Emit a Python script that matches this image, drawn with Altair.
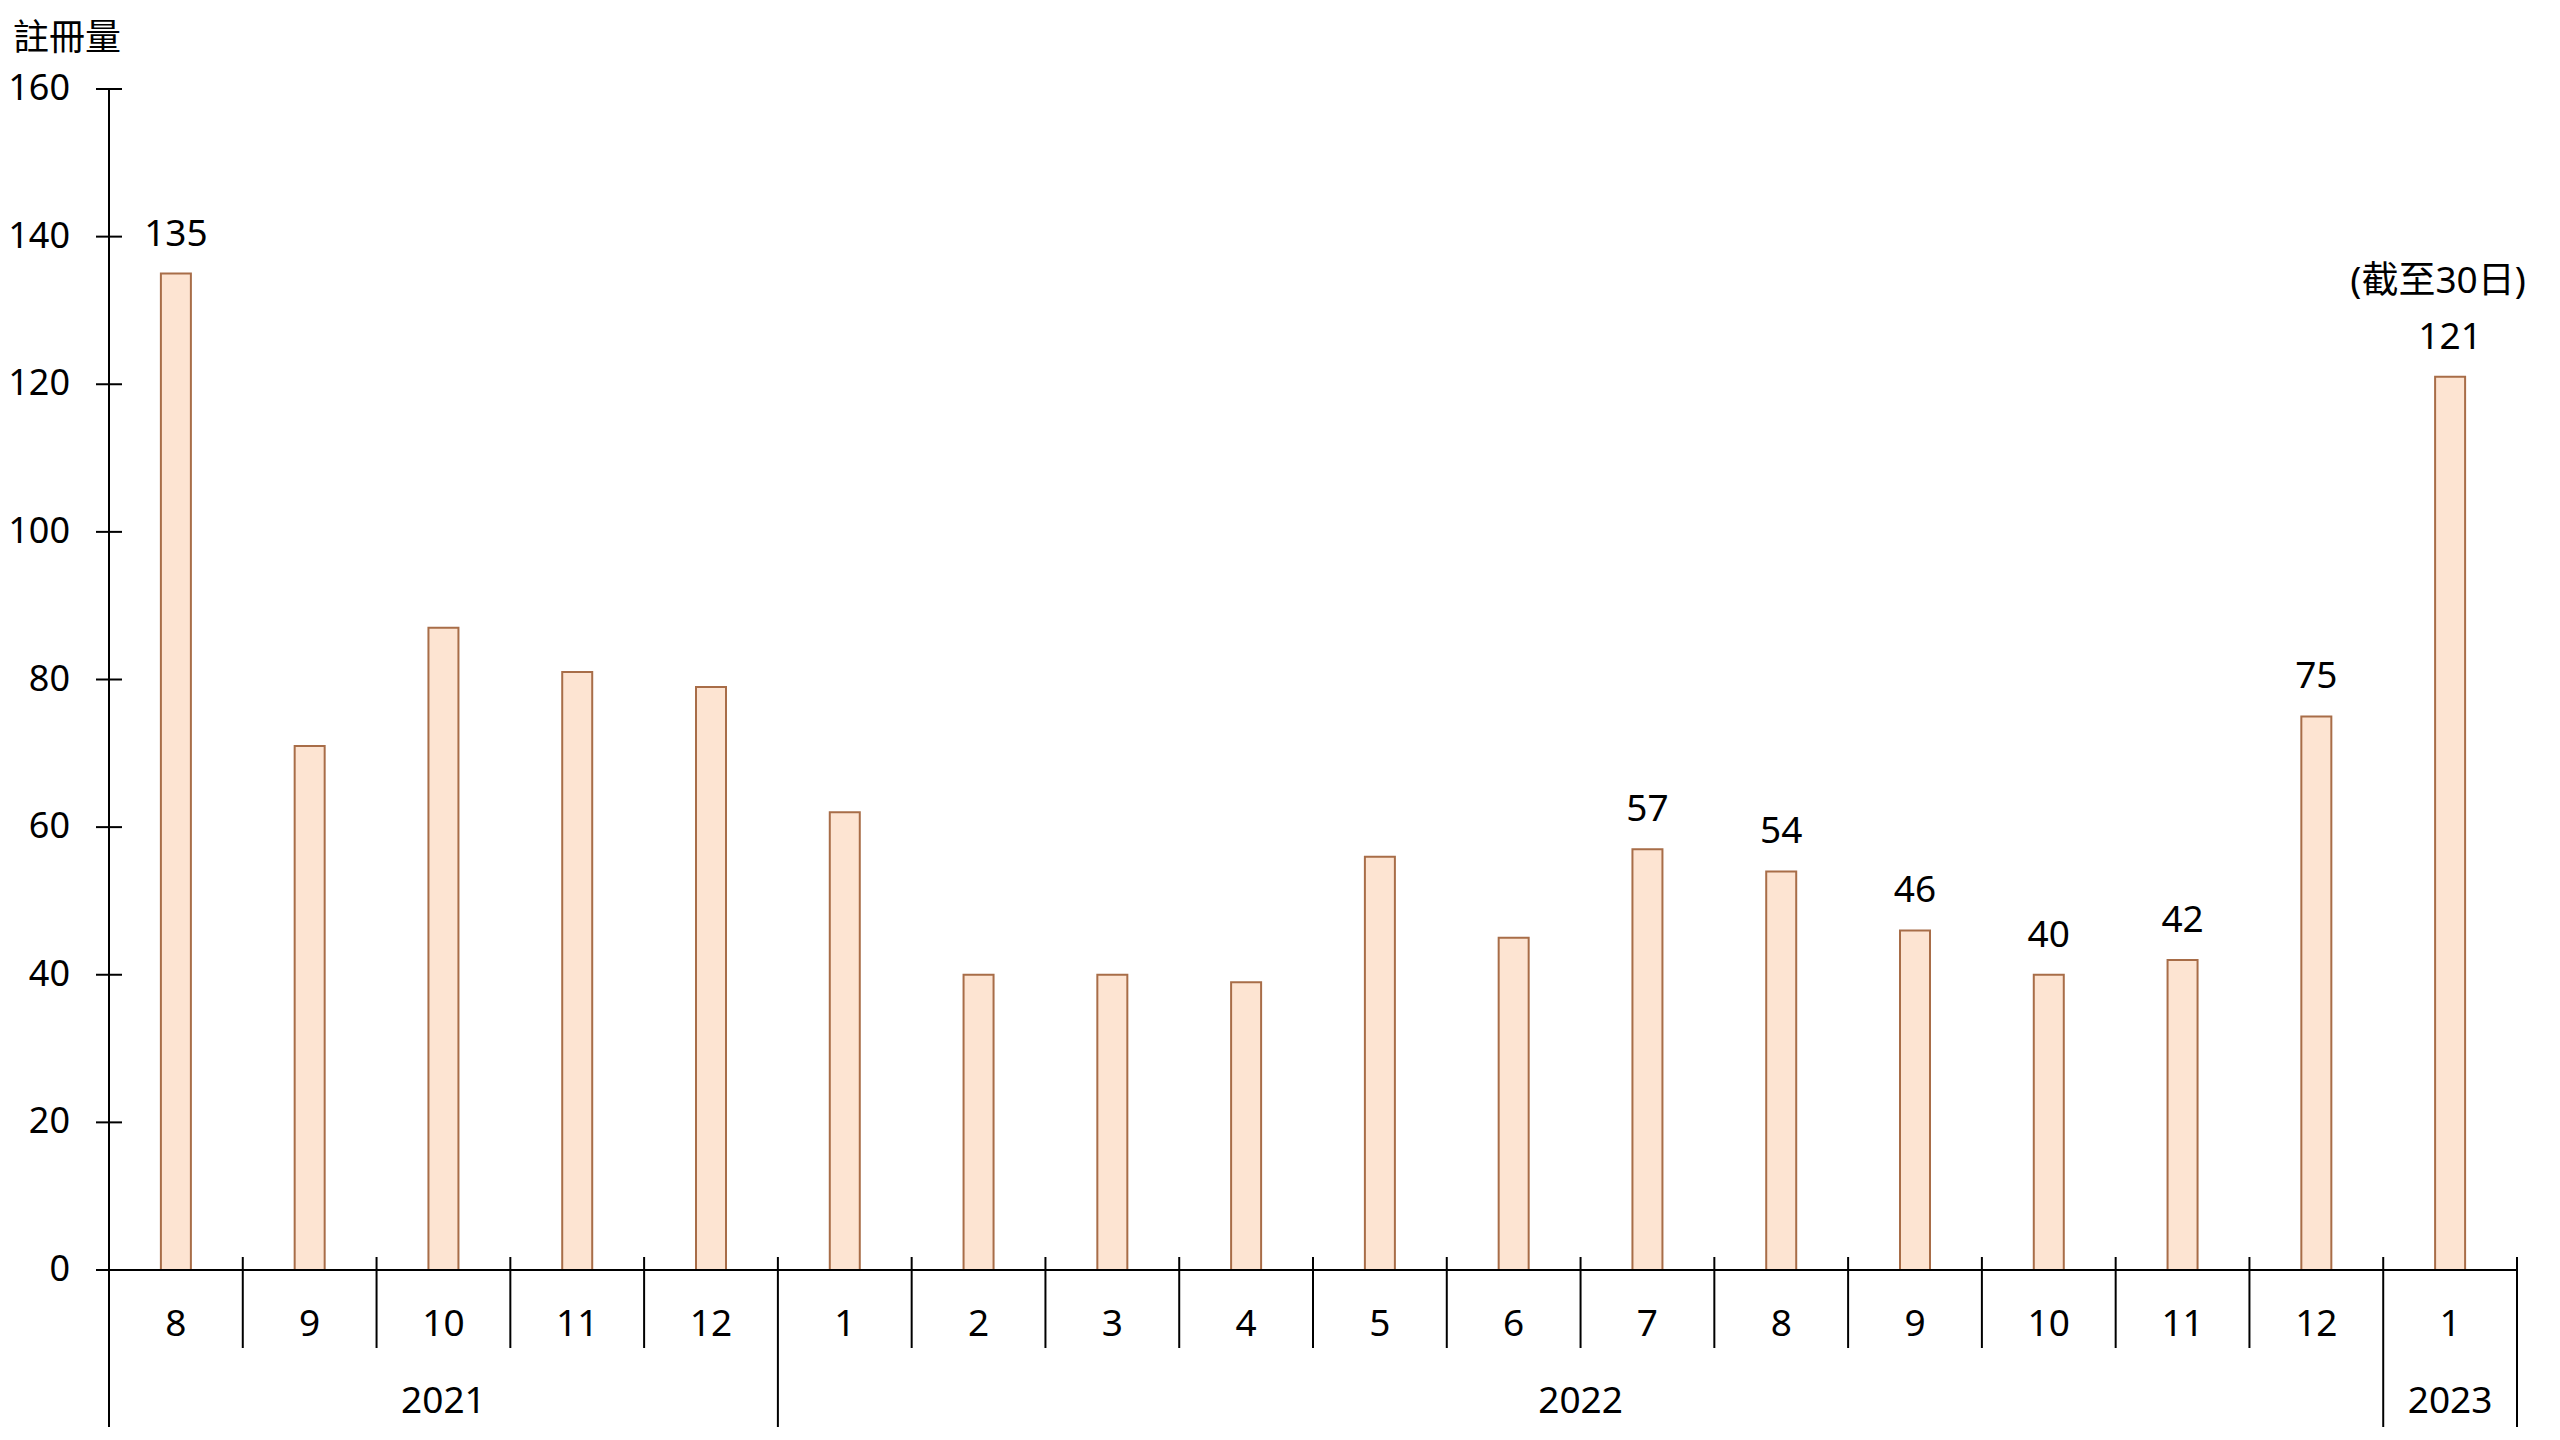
import altair as alt
import pandas as pd

# ---- data ----
years = [2021] * 5 + [2022] * 12 + [2023]
months = [8, 9, 10, 11, 12, 1, 2, 3, 4, 5, 6, 7, 8, 9, 10, 11, 12, 1]
values = [135, 71, 87, 81, 79, 62, 40, 40, 39, 56, 45, 57, 54, 46, 40, 42, 75, 121]
labels = ["135", "", "", "", "", "", "", "", "", "", "", "57", "54", "46", "40", "42", "75", "121"]
note_text = "(截至30日)"
y_ticks = [0, 20, 40, 60, 80, 100, 120, 140, 160]
y_title = "註冊量"

n = len(values)
df = pd.DataFrame({
    "idx": list(range(n)),
    "year": [str(y) for y in years],
    "month": [str(m) for m in months],
    "value": values,
    "label": labels,
})
note_df = pd.DataFrame({"idx": [n - 1], "value": [values[-1]], "note": [note_text]})

bounds = pd.DataFrame({
    "pos": [i + 0.5 for i in range(n)],
    "long": [(i == n - 1) or (years[i] != years[i + 1]) for i in range(n)],
})
tick_df = pd.DataFrame({"t": y_ticks, "tl": [str(t) for t in y_ticks]})
title_df = pd.DataFrame({"title": [y_title]})

# ---- style ----
W, H = 2408, 1181
FONT = "Noto Sans, 'Noto Sans CJK TC', sans-serif"
CJK = "'Noto Sans CJK TC', sans-serif"
FILL = "#FDE4D2"
STROKE = "#A86D48"
FS = 37

xs = alt.Scale(domain=[-0.5, n - 0.5], nice=False, zero=False, padding=0)
ys = alt.Scale(domain=[min(y_ticks), max(y_ticks)], nice=False, padding=0)

bars = alt.Chart(df).mark_bar(size=30, fill=FILL, stroke=STROKE, strokeWidth=2).encode(
    x=alt.X("idx:Q", scale=xs, axis=None),
    y=alt.Y("value:Q", scale=ys, axis=None),
)

value_labels = alt.Chart(df).transform_filter("datum.label != ''").mark_text(
    baseline="alphabetic", dy=-28, fontSize=FS, font=FONT, color="black"
).encode(
    x=alt.X("idx:Q", scale=xs, axis=None),
    y=alt.Y("value:Q", scale=ys, axis=None),
    text="label:N",
)

note = alt.Chart(note_df).mark_text(
    baseline="alphabetic", dy=-84, dx=-12, fontSize=FS, font=FONT, color="black"
).encode(
    x=alt.X("idx:Q", scale=xs, axis=None),
    y=alt.Y("value:Q", scale=ys, axis=None),
    text="note:N",
)

y_tick_marks = alt.Chart(tick_df).mark_rule(color="black", strokeWidth=2).encode(
    y=alt.Y("t:Q", scale=ys, axis=None),
    x=alt.value(-13),
    x2=alt.value(13),
)

y_tick_labels = alt.Chart(tick_df).mark_text(
    align="right", baseline="middle", fontSize=36, font=FONT, color="black"
).encode(
    y=alt.Y("t:Q", scale=ys, axis=None),
    x=alt.value(-39),
    text="tl:N",
)

y_title_mark = alt.Chart(title_df).mark_text(
    align="left", baseline="middle", fontSize=36, font=CJK, color="black"
).encode(
    x=alt.value(-96), y=alt.value(-50), text="title:N"
)

y_line = alt.Chart(tick_df).mark_rule(color="black", strokeWidth=2).encode(
    x=alt.value(0), y=alt.value(0), y2=alt.value(H + 157)
)
x_line = alt.Chart(tick_df).mark_rule(color="black", strokeWidth=2).encode(
    x=alt.value(0), x2=alt.value(W), y=alt.value(H)
)

short_ticks = alt.Chart(bounds).transform_filter("!datum.long").mark_rule(
    color="black", strokeWidth=2
).encode(
    x=alt.X("pos:Q", scale=xs, axis=None),
    y=alt.value(H - 13), y2=alt.value(H + 78),
)
long_ticks = alt.Chart(bounds).transform_filter("datum.long").mark_rule(
    color="black", strokeWidth=2
).encode(
    x=alt.X("pos:Q", scale=xs, axis=None),
    y=alt.value(H - 13), y2=alt.value(H + 157),
)

month_labels = alt.Chart(df).mark_text(
    baseline="middle", fontSize=FS, font=FONT, color="black"
).encode(
    x=alt.X("idx:Q", scale=xs, axis=None),
    y=alt.value(H + 55),
    text="month:N",
)

year_labels = alt.Chart(df).transform_aggregate(
    c="mean(idx)", groupby=["year"]
).mark_text(baseline="middle", fontSize=FS, font=FONT, color="black").encode(
    x=alt.X("c:Q", scale=xs, axis=None),
    y=alt.value(H + 132),
    text="year:N",
)

chart = alt.layer(
    bars, value_labels, note, y_tick_marks, y_tick_labels, y_title_mark, y_line, x_line,
    short_ticks, long_ticks, month_labels, year_labels,
).properties(
    width=W, height=H,
    autosize=alt.AutoSizeParams(type="none"),
    padding={"left": 101, "top": 81, "right": 30, "bottom": 160},
).configure_view(strokeWidth=0, stroke="transparent")

chart.save("out.html", embed_options={"renderer": "svg", "actions": False})
